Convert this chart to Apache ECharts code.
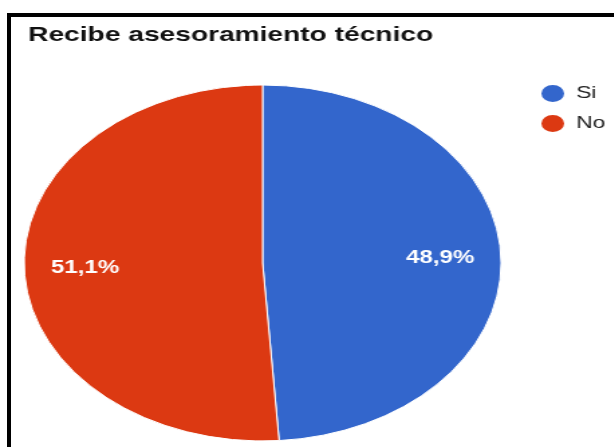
<!DOCTYPE html>
<html>
<head>
<meta charset="utf-8">
<script src="https://cdn.jsdelivr.net/npm/echarts@6/dist/echarts.min.js"></script>
<style>
  html, body { margin: 0; padding: 0; background: #fff; overflow: hidden; }
  #frame {
    position: absolute; left: 7px; top: 13px; width: 700px; height: 500px;
    border-left: 4px solid #000; border-top: 4px solid #000;
  }
  /* the reference picture is stretched sideways, so is the chart */
  #chart {
    position: absolute; left: 0; top: 0; width: 458px; height: 447px;
    transform: scaleX(1.34); transform-origin: 0 0;
  }
</style>
</head>
<body>
<div id="frame"></div>
<div id="chart"></div>
<script>
// datos
var categories = ['Si', 'No'];
var values = [48.9, 51.1];
var colors = ['#3366cc', '#dc3912'];

var pieData = categories.map(function (name, i) {
  return { name: name, value: values[i], itemStyle: { color: colors[i] } };
});

function pct(p) {
  return p.value.toFixed(1).replace('.', ',') + '%';
}

var chart = echarts.init(document.getElementById('chart'));
chart.setOption({
  animation: false,
  title: {
    text: 'Recibe asesoramiento técnico',
    left: 21,
    top: 25,
    padding: 0,
    textStyle: { fontFamily: 'Liberation Sans', fontSize: 21, fontWeight: 'bold', color: '#111' }
  },
  legend: {
    orient: 'vertical',
    left: 402,
    top: 83,
    icon: 'circle',
    itemWidth: 19,
    itemHeight: 19,
    itemGap: 9,
    padding: 0,
    data: categories,
    textStyle: { fontFamily: 'Liberation Sans', fontSize: 17, color: '#222', padding: [0, 0, 0, 3] }
  },
  series: [
    {
      type: 'pie',
      center: [196, 263],
      radius: [0, 178],
      startAngle: 90,
      clockwise: true,
      silent: true,
      label: { show: false },
      labelLine: { show: false },
      itemStyle: { borderColor: '#fff', borderWidth: 1 },
      data: pieData
    },
    {
      // only carries the labels, further out than the middle of the radius
      type: 'pie',
      center: [196, 263],
      radius: [81, 178],
      startAngle: 90,
      clockwise: true,
      silent: true,
      itemStyle: { color: 'rgba(0,0,0,0)' },
      label: {
        show: true,
        position: 'inside',
        formatter: pct,
        fontFamily: 'Liberation Sans',
        fontSize: 18,
        fontWeight: 'bold',
        color: '#fff'
      },
      labelLine: { show: false },
      data: categories.map(function (name, i) { return { name: name, value: values[i] }; })
    }
  ]
});
</script>
</body>
</html>
